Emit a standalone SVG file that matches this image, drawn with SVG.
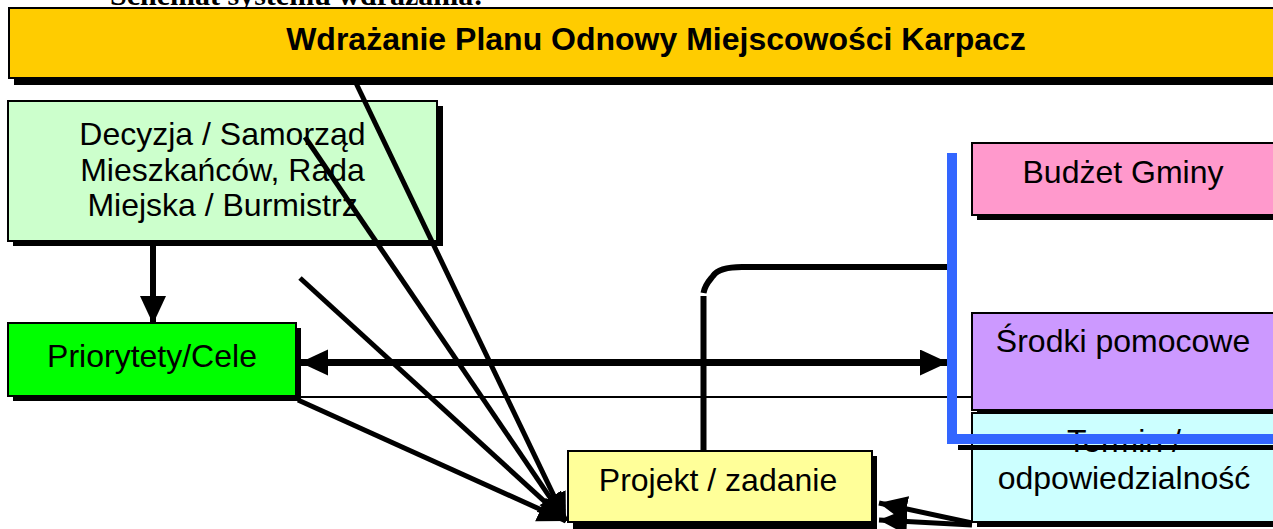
<svg xmlns="http://www.w3.org/2000/svg" width="1273" height="529" viewBox="0 0 1273 529">
<style>
.box{stroke:#000;stroke-width:2}
.sh{fill:#000}
.t{font-family:"Liberation Sans",Arial,sans-serif;font-size:32px;fill:#000;text-anchor:middle}
.ln{stroke:#000;fill:none}
</style>
<defs>
<marker id="ah" markerUnits="userSpaceOnUse" markerWidth="30" markerHeight="28" refX="28" refY="13" orient="auto">
<path d="M0,0 L28,13 L0,26 Z" fill="#000"/>
</marker>
<marker id="ahs" markerUnits="userSpaceOnUse" markerWidth="30" markerHeight="28" refX="28" refY="13" orient="auto-start-reverse">
<path d="M0,0 L28,13 L0,26 Z" fill="#000"/>
</marker>
</defs>
<text x="110" y="5" style="font-family:'Liberation Serif','Times New Roman',serif;font-size:30px;font-weight:bold">Schemat systemu wdrażania:</text>
<g id="title">
<rect class="sh" x="14" y="14" width="1270" height="71"/>
<rect class="box" x="9" y="8" width="1270" height="70" fill="#FFCC00"/>
<text class="t" x="656" y="50" style="font-weight:bold">Wdrażanie Planu Odnowy Miejscowości Karpacz</text>
</g>
<g id="decyzja">
<rect class="sh" x="13" y="106" width="430" height="140"/>
<rect class="box" x="8" y="101" width="429" height="140" fill="#CCFFCC"/>
<text class="t" x="222.5" y="145">Decyzja / Samorząd</text>
<text class="t" x="222.5" y="180.5">Mieszkańców, Rada</text>
<text class="t" x="222.5" y="216">Miejska / Burmistrz</text>
</g>
<g id="priorytety">
<rect class="sh" x="13" y="328" width="288" height="73"/>
<rect class="box" x="8" y="323" width="288" height="73" fill="#00FF00"/>
<text class="t" x="152" y="367">Priorytety/Cele</text>
</g>
<g id="budzet">
<rect class="sh" x="977" y="148" width="304" height="72"/>
<rect class="box" x="972" y="143" width="304" height="72" fill="#FF99CC"/>
<text class="t" x="1123" y="183">Budżet Gminy</text>
</g>
<g id="srodki">
<rect class="sh" x="977" y="318" width="304" height="97"/>
<rect class="box" x="972" y="313" width="304" height="97" fill="#CC99FF"/>
<text class="t" x="1123" y="352">Środki pomocowe</text>
</g>
<g id="termin">
<rect class="sh" x="977" y="418" width="304" height="109"/>
<rect class="box" x="972" y="413" width="304" height="109" fill="#CCFFFF"/>
<text class="t" x="1124" y="452">Termin /</text>
<text class="t" x="1124" y="489">odpowiedzialność</text>
</g>
<g id="connectors">
<line class="ln" x1="297" y1="397" x2="972" y2="397" stroke-width="2"/>
<line class="ln" x1="153" y1="246" x2="153" y2="324" stroke-width="6" marker-end="url(#ah)"/>
<line class="ln" x1="300" y1="362.5" x2="948" y2="362.5" stroke-width="7" marker-start="url(#ahs)" marker-end="url(#ah)"/>
<path class="ln" d="M703.5,451 V296 M703.5,293 C705,284 710,280 713,276 C717,270 725,267 742,267 H948" stroke-width="6"/>
<line class="ln" x1="355" y1="81" x2="566" y2="521" stroke-width="5" marker-end="url(#ah)"/>
<line class="ln" x1="305" y1="137" x2="566" y2="521" stroke-width="5" marker-end="url(#ah)"/>
<line class="ln" x1="300" y1="278" x2="566" y2="521" stroke-width="5" marker-end="url(#ah)"/>
<line class="ln" x1="298" y1="400" x2="566" y2="521" stroke-width="5" marker-end="url(#ah)"/>
<line class="ln" x1="972" y1="523" x2="879" y2="503" stroke-width="5" marker-end="url(#ah)"/>
<line class="ln" x1="972" y1="525" x2="879" y2="520" stroke-width="5" marker-end="url(#ah)"/>
<line class="ln" x1="958" y1="447.5" x2="1273" y2="447.5" stroke-width="5"/>
<path d="M952,153 V439 H1273" fill="none" stroke="#3366FF" stroke-width="10"/>
</g>
<g id="projekt">
<rect class="sh" x="573" y="456" width="304" height="73"/>
<rect class="box" x="568" y="451" width="304" height="71" fill="#FFFF99"/>
<text class="t" x="718" y="491">Projekt / zadanie</text>
</g>
</svg>
